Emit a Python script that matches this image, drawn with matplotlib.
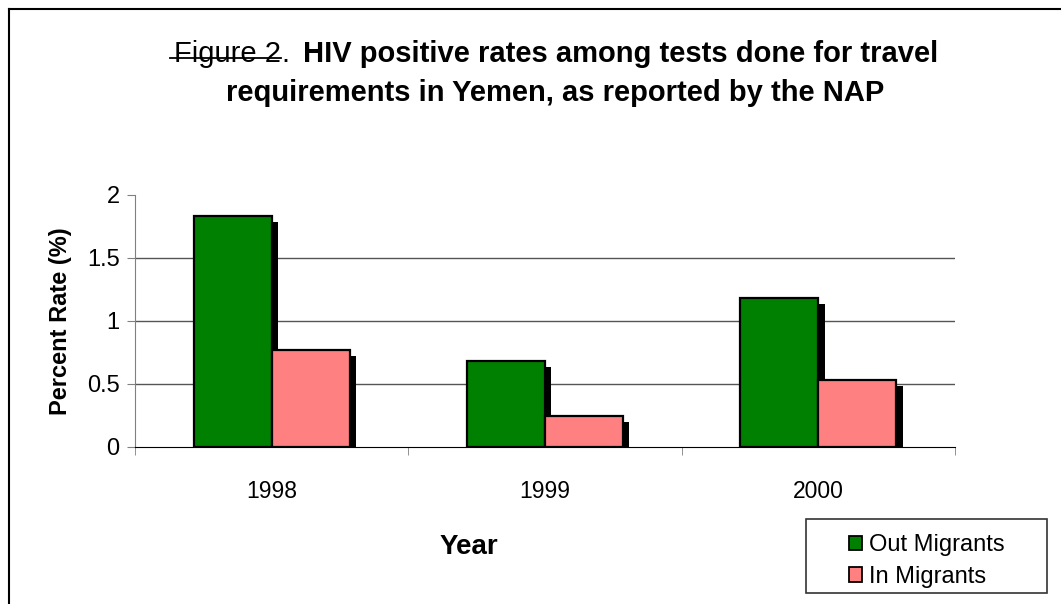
import numpy as np
import matplotlib
matplotlib.use('Agg')
import matplotlib.pyplot as plt
from matplotlib.lines import Line2D
from matplotlib.patches import Patch, Rectangle

years = ['1998', '1999', '2000']
out_migrants = [1.83, 0.68, 1.18]
in_migrants = [0.77, 0.24, 0.53]
series_names = ['Out Migrants', 'In Migrants']
series_colors = ['#008000', '#FF8080']

W, H = 1061, 604
plt.rcParams['font.family'] = ['Liberation Sans', 'DejaVu Sans']


def fx(px):
    return px / W


def fy(py):
    return 1 - py / H


fig = plt.figure(figsize=(W / 100, H / 100), dpi=100)
ax = fig.add_axes([fx(135), fy(446.5), fx(955) - fx(135), fy(195) - fy(446.5)])

x = np.arange(len(years))
bw = 0.285
# shadow offset, in data units (about 6 px)
dx = 6.4 * 3 / 820
dy = 6 / 125.5

out_vals = np.array(out_migrants)
in_vals = np.array(in_migrants)

ax.bar(x - bw / 2 + dx, out_vals - dy, bw, color='black', zorder=2)
ax.bar(x + bw / 2 + dx, in_vals - dy, bw, color='black', zorder=2)
ax.bar(x - bw / 2, out_vals, bw, color=series_colors[0], edgecolor='black', linewidth=1.6, zorder=3)
ax.bar(x + bw / 2, in_vals, bw, color=series_colors[1], edgecolor='black', linewidth=1.6, zorder=3)

ax.set_xlim(-0.5, 2.5)
ax.set_ylim(0, 2)
ax.set_yticks([0, 0.5, 1, 1.5, 2])
ax.set_yticklabels(['0', '0.5', '1', '1.5', '2'])
for g in [0.5, 1, 1.5]:
    ax.axhline(g, color='#555555', linewidth=1, zorder=1)

ax.set_xticks(x)
ax.set_xticklabels(years)
ax.set_xticks([-0.5, 0.5, 1.5, 2.5], minor=True)
ax.tick_params(axis='x', which='major', length=0, pad=24, labelsize=16.5)
ax.tick_params(axis='x', which='minor', length=6, direction='out', color='#808080')
ax.tick_params(axis='y', length=6, direction='out', labelsize=17, pad=5, color='#808080')

for s in ['top', 'right']:
    ax.spines[s].set_visible(False)
ax.spines['left'].set_color('#808080')
ax.spines['bottom'].set_color('black')
ax.spines['bottom'].set_zorder(4)

ax.set_ylabel('Percent Rate (%)', fontsize=17, fontweight='bold')
ax.yaxis.set_label_coords((72 - 135) / 820, 0.5)
fig.text(fx(469), fy(547), 'Year', fontsize=20, fontweight='bold', ha='center', va='center')

# title with struck-through "Figure 2"
fs = 21
r = fig.canvas.get_renderer()
ta = fig.text(0, fy(62), 'Figure 2', fontsize=fs, va='baseline')
tb = fig.text(0, fy(62), '.', fontsize=fs, va='baseline')
tc = fig.text(0, fy(62), 'HIV positive rates among tests done for travel', fontsize=fs,
              fontweight='bold', va='baseline')
wa = ta.get_window_extent(r).width
wb = tb.get_window_extent(r).width
wc = tc.get_window_extent(r).width
gap = 14
total = wa + wb + gap + wc
x0 = 556 - total / 2
ta.set_x(fx(x0))
tb.set_x(fx(x0 + wa))
tc.set_x(fx(x0 + wa + wb + gap))
fig.add_artist(Line2D([fx(x0 - 4), fx(x0 + wa)], [fy(58), fy(58)], color='black', linewidth=1.3))
fig.text(fx(555), fy(101), 'requirements in Yemen, as reported by the NAP', fontsize=fs,
         fontweight='bold', ha='center', va='baseline')

# outer frame (clipped at right and bottom)
fig.add_artist(Line2D([fx(9), fx(9)], [fy(9), 0], color='black', linewidth=1.5))
fig.add_artist(Line2D([fx(9), 1], [fy(9), fy(9)], color='black', linewidth=1.5))

# legend box drawn separately, the entries sit inside it
fig.add_artist(Rectangle((fx(806), fy(593)), fx(1047) - fx(806), fy(519) - fy(593),
                         transform=fig.transFigure, facecolor='white', edgecolor='#333333',
                         linewidth=1.2, zorder=5))
handles = [Patch(facecolor=c, edgecolor='black', linewidth=1.3) for c in series_colors]
leg = fig.legend(handles, series_names, loc='center', bbox_to_anchor=(fx(927), fy(561)),
                 fontsize=17, frameon=False,
                 handlelength=0.55, handleheight=0.55, handletextpad=0.3,
                 labelspacing=0.42, borderpad=0, borderaxespad=0)
leg.set_zorder(6)

fig.savefig('out.png', dpi=100)
